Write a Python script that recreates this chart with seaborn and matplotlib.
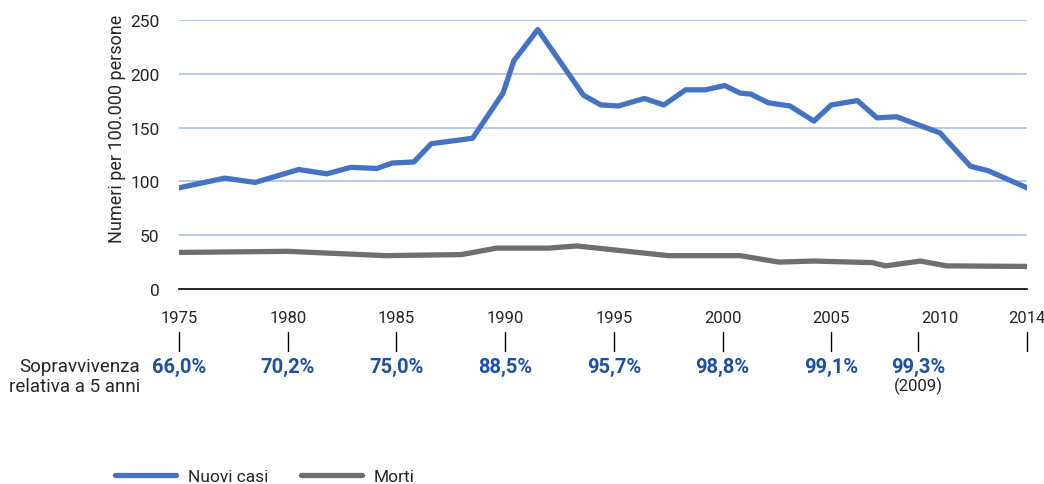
import numpy as np
import pandas as pd
import matplotlib
matplotlib.use("Agg")
import matplotlib.pyplot as plt
import matplotlib.transforms as mtransforms
import seaborn as sns

# Nuovi casi (per 100.000 persone)
anni_casi = [1975.0, 1977.1, 1978.5, 1980.5, 1981.8, 1982.9, 1984.1, 1984.8, 1985.8,
             1986.6, 1988.5, 1989.9, 1990.4, 1991.5, 1993.6, 1994.4, 1995.2, 1996.4,
             1997.3, 1998.3, 1999.2, 2000.1, 2000.8, 2001.3, 2002.1, 2003.1, 2004.2,
             2005.0, 2006.2, 2007.1, 2008.0, 2010.0, 2011.4, 2012.2, 2014.0]
valori_casi = [94, 103, 99, 111, 107, 113, 112, 117, 118,
               135, 140, 182, 212, 241, 180, 171, 170, 177,
               171, 185, 185, 189, 182, 181, 173, 170, 156,
               171, 175, 159, 160, 145, 114, 110, 94]

# Morti (per 100.000 persone)
anni_morti = [1975.0, 1980.0, 1984.5, 1988.0, 1989.6, 1992.0, 1993.3, 1997.5,
              2000.8, 2002.6, 2004.2, 2006.9, 2007.5, 2009.1, 2010.3, 2014.0]
valori_morti = [34, 35, 31, 32, 38, 38, 40, 31,
                31, 25, 26, 24.5, 21.5, 26, 21.5, 21]

# Sopravvivenza relativa a 5 anni
anni_sopr = [1975, 1980, 1985, 1990, 1995, 2000, 2005, 2009]
etichette_sopr = ["66,0%", "70,2%", "75,0%", "88,5%", "95,7%", "98,8%", "99,1%", "99,3%"]
anni_trattini = anni_sopr + [2014]
anni_tick = [1975, 1980, 1985, 1990, 1995, 2000, 2005, 2010, 2014]

df = pd.concat([
    pd.DataFrame({"anno": anni_casi, "valore": valori_casi, "serie": "Nuovi casi"}),
    pd.DataFrame({"anno": anni_morti, "valore": valori_morti, "serie": "Morti"}),
])

sns.set_style("white")
plt.rcParams["font.family"] = ["Roboto", "DejaVu Sans"]

fig = plt.figure(figsize=(10.44, 4.85), dpi=100)
ax = fig.add_axes([0.1715, 0.402, 0.8122, 0.555])

sns.lineplot(data=df, x="anno", y="valore", hue="serie",
             palette={"Nuovi casi": "#4472c4", "Morti": "#6f6f6f"},
             linewidth=3.8, ax=ax, legend=True, estimator=None, sort=True)

ax.set_xlim(1975, 2014)
ax.set_ylim(0, 250)
ax.set_yticks([0, 50, 100, 150, 200, 250])
ax.set_xticks(anni_tick)
ax.set_xticklabels([str(a) for a in anni_tick], fontsize=12)
ax.tick_params(axis="y", length=0, pad=14, labelsize=12.5)
ax.tick_params(axis="x", length=10, width=1, direction="out", pad=5, color="black")
ax.yaxis.grid(True, color="#a9c0e4", linewidth=1.2)
ax.set_axisbelow(True)
for g, t in zip(ax.yaxis.get_gridlines(), ax.get_yticks()):
    if t == 0:
        g.set_visible(False)
for s in ["left", "top", "right"]:
    ax.spines[s].set_visible(False)
ax.spines["bottom"].set_color("black")
ax.spines["bottom"].set_linewidth(1.2)
ax.set_xlabel("")
ax.set_ylabel("Numeri per 100.000 persone", fontsize=13)
ax.yaxis.set_label_coords(-0.062, 0.60)

# legenda in basso
handles, labels = ax.get_legend_handles_labels()
ax.get_legend().remove()
fig.legend(handles, labels, loc="center left", bbox_to_anchor=(0.095, 0.016),
           ncol=2, frameon=False, fontsize=12.5, handlelength=3.5,
           columnspacing=1.9, handletextpad=0.7)

# sopravvivenza sotto l'asse
blend = mtransforms.blended_transform_factory(ax.transData, fig.transFigure)
for a in anni_trattini:
    ax.plot([a, a], [1 - 333 / 485, 1 - 352 / 485], color="black", linewidth=1,
            transform=blend, clip_on=False)
for a, t in zip(anni_sopr, etichette_sopr):
    ax.text(a, 1 - 367 / 485, t, transform=blend, ha="center", va="center",
            fontsize=14.5, fontweight="bold", color="#1d4fa6")
ax.text(2009, 1 - 386 / 485, "(2009)", transform=blend, ha="center", va="center",
        fontsize=12, color="#222222")
fig.text(140 / 1044, 1 - 367 / 485, "Sopravvivenza", ha="right", va="center", fontsize=13.5)
fig.text(140 / 1044, 1 - 387 / 485, "relativa a 5 anni", ha="right", va="center", fontsize=13.5)

fig.savefig("out.png", dpi=100)
